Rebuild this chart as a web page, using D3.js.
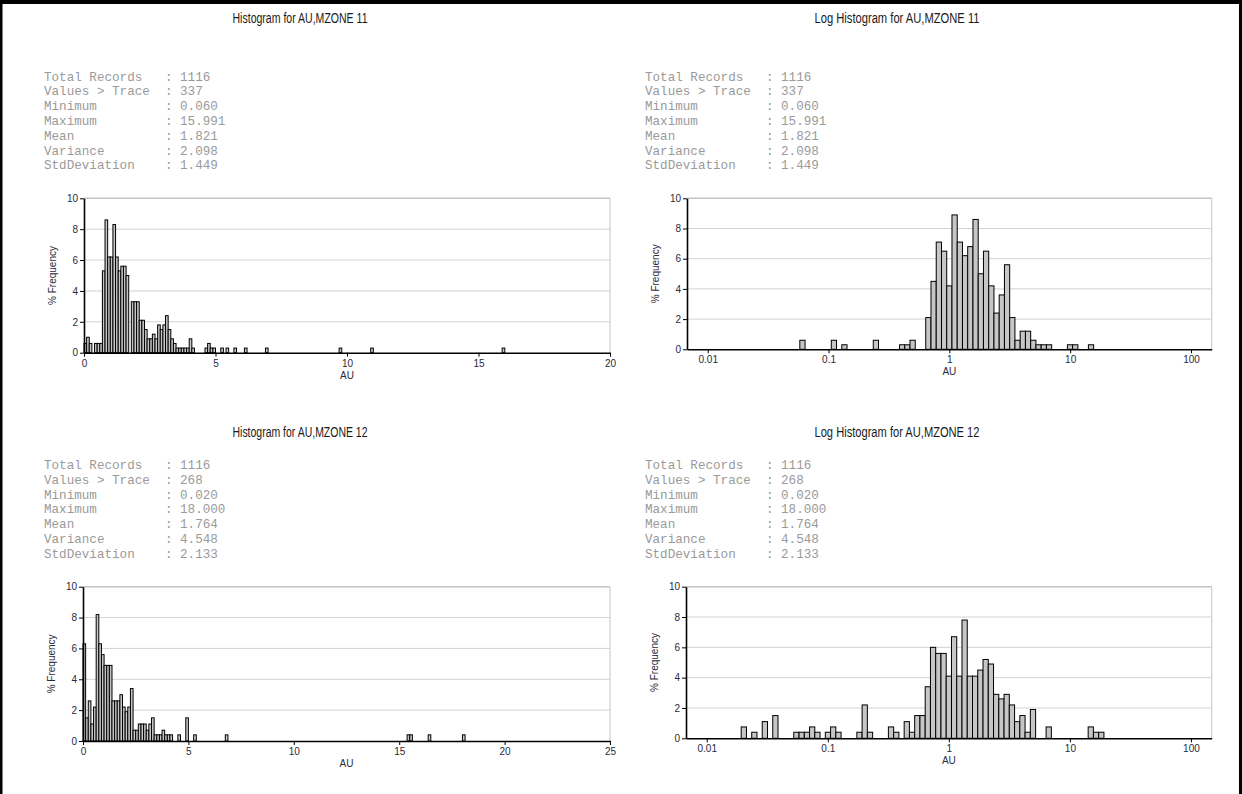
<!DOCTYPE html>
<html>
<head>
<meta charset="utf-8">
<script src="https://cdn.jsdelivr.net/npm/d3@7/dist/d3.min.js"></script>
<style>
  html, body { margin: 0; padding: 0; background: #fff; }
  svg { display: block; }
</style>
</head>
<body>
<svg id="fig" width="1242" height="794"></svg>
<script>
// ---------------- data ----------------
const yTicks = [0, 2, 4, 6, 8, 10];
const linTicksZ11 = [0, 5, 10, 15, 20];
const linTicksZ12 = [0, 5, 10, 15, 20, 25];
const logTicks = [0.01, 0.1, 1, 10, 100];

const statLabels = ["Total Records", "Values > Trace", "Minimum", "Maximum", "Mean", "Variance", "StdDeviation"];
const statsZ11 = ["1116", "337", "0.060", "15.991", "1.821", "2.098", "1.449"];
const statsZ12 = ["1116", "268", "0.020", "18.000", "1.764", "4.548", "2.133"];

// MZONE 11, linear histogram: bin lower edge (AU, bin width 0.1) and % frequency
const z11LinStart = [0.0, 0.1, 0.2, 0.4, 0.5, 0.6, 0.7, 0.8, 0.9, 1.0, 1.1, 1.2, 1.3, 1.4, 1.5, 1.6, 1.8, 1.9, 2.0, 2.1,
  2.2, 2.3, 2.4, 2.5, 2.6, 2.7, 2.8, 2.9, 3.0, 3.1, 3.2, 3.3, 3.4, 3.5, 3.6, 3.7, 3.8, 3.9, 4.0, 4.1,
  4.6, 4.7, 4.8, 4.9, 5.2, 5.4, 5.7, 6.1, 6.9, 9.7, 10.9, 15.9];
const z11LinPct = [0.6, 1.0, 0.6, 0.6, 0.6, 0.6, 5.3, 8.6, 6.2, 6.2, 8.3, 6.2, 5.3, 5.6, 5.6, 5.0, 3.3, 3.3, 3.3, 2.1,
  2.1, 1.5, 0.9, 0.9, 1.2, 0.9, 1.8, 1.5, 1.8, 2.4, 1.5, 0.9, 0.6, 0.3, 0.3, 0.3, 0.3, 0.3, 0.9, 0.3,
  0.3, 0.6, 0.3, 0.3, 0.3, 0.3, 0.3, 0.3, 0.3, 0.3, 0.3, 0.3];

// MZONE 11, log histogram: bin centre (natural log of AU, bin width 0.1) and % frequency
const z11LogLn = [-2.8, -2.2, -2.0, -1.4, -0.9, -0.8, -0.7, -0.4, -0.3, -0.2, -0.1, 0.0, 0.1, 0.2, 0.3, 0.4, 0.5, 0.6,
  0.7, 0.8, 0.9, 1.0, 1.1, 1.2, 1.3, 1.4, 1.5, 1.6, 1.7, 1.8, 1.9, 2.3, 2.4, 2.7];
const z11LogPct = [0.6, 0.6, 0.3, 0.6, 0.3, 0.3, 0.6, 2.1, 4.5, 7.1, 6.5, 4.2, 8.9, 7.1, 6.2, 6.8, 8.6, 5.0,
  6.5, 4.2, 2.4, 3.6, 5.6, 2.1, 0.6, 1.2, 1.2, 0.6, 0.3, 0.3, 0.3, 0.3, 0.3, 0.3];

// MZONE 12, linear histogram: bin lower edge (AU, bin width 0.125) and % frequency
const z12LinStart = [0.0, 0.125, 0.25, 0.375, 0.5, 0.625, 0.75, 0.875, 1.0, 1.125, 1.25, 1.375, 1.5, 1.625, 1.75,
  1.875, 2.0, 2.125, 2.25, 2.375, 2.5, 2.625, 2.75, 2.875, 3.0, 3.125, 3.25, 3.375, 3.5, 3.625, 3.75,
  3.875, 4.0, 4.125, 4.5, 4.875, 5.25, 6.75, 15.375, 15.5, 16.375, 18.0];
const z12LinPct = [6.3, 1.5, 2.6, 1.1, 2.2, 8.2, 6.3, 5.6, 4.9, 4.9, 4.9, 2.6, 2.6, 2.6, 3.0,
  2.2, 1.9, 2.2, 3.4, 0.7, 0.7, 1.1, 1.1, 1.1, 0.7, 1.1, 1.5, 0.4, 0.4, 0.4, 0.7,
  0.4, 0.4, 0.4, 0.4, 1.5, 0.4, 0.4, 0.4, 0.4, 0.4, 0.4];

// MZONE 12, log histogram: bin centre (natural log of AU, bin width 0.1) and % frequency
const z12LogLn = [-3.9, -3.7, -3.5, -3.3, -2.9, -2.8, -2.7, -2.6, -2.5, -2.3, -2.2, -2.1, -1.7, -1.6, -1.5, -1.1, -1.0,
  -0.8, -0.7, -0.6, -0.5, -0.4, -0.3, -0.2, -0.1, 0.0, 0.1, 0.2, 0.3, 0.4, 0.5, 0.6, 0.7, 0.8, 0.9, 1.0, 1.1,
  1.2, 1.3, 1.4, 1.5, 1.6, 1.9, 2.7, 2.8, 2.9];
const z12LogPct = [0.75, 0.4, 1.1, 1.5, 0.4, 0.4, 0.4, 0.75, 0.4, 0.4, 0.75, 0.4, 0.4, 2.2, 0.4, 0.75, 0.4,
  1.1, 0.4, 1.5, 1.5, 3.4, 6.0, 5.6, 5.6, 4.1, 6.7, 4.1, 7.8, 4.1, 4.1, 4.5, 5.2, 4.9, 2.9, 2.6, 2.9,
  2.2, 1.1, 1.5, 0.4, 1.9, 0.75, 0.75, 0.4, 0.4];

// ---------------- drawing ----------------
const svg = d3.select("#fig");
const SANS = "'Liberation Sans', Arial, sans-serif";
const MONO = "'Courier New', 'Nimbus Mono PS', FreeMono, 'Liberation Mono', monospace";

// page frame
svg.append("rect").attr("x", 0).attr("y", 0).attr("width", 1242).attr("height", 794).attr("fill", "#fff");
svg.append("rect").attr("x", 0).attr("y", 0).attr("width", 1242).attr("height", 4).attr("fill", "#000");
svg.append("rect").attr("x", 0).attr("y", 0).attr("width", 2.5).attr("height", 794).attr("fill", "#000");
svg.append("rect").attr("x", 1239).attr("y", 0).attr("width", 3).attr("height", 794).attr("fill", "#000");

function drawStats(x, y0, values) {
  const g = svg.append("g");
  statLabels.forEach((lab, i) => {
    g.append("text")
      .attr("x", x).attr("y", y0 + i * 14.8)
      .attr("font-family", MONO).attr("font-size", 12.6)
      .attr("fill", "#9a9a9a")
      .style("white-space", "pre")
      .text(lab.padEnd(16, " ") + ": " + values[i]);
  });
}

function drawPanel(cfg) {
  const g = svg.append("g");
  const x = cfg.log
    ? d3.scaleLog().domain(cfg.domain).range([cfg.left, cfg.right])
    : d3.scaleLinear().domain(cfg.domain).range([cfg.left, cfg.right]);
  const y = d3.scaleLinear().domain([0, 10]).range([cfg.bottom, cfg.top]);

  // title
  g.append("text")
    .attr("x", cfg.titleX).attr("y", cfg.titleY)
    .attr("text-anchor", "middle")
    .attr("font-family", SANS).attr("font-size", 14)
    .attr("fill", "#1a1a1a")
    .attr("textLength", cfg.titleLen).attr("lengthAdjust", "spacingAndGlyphs")
    .text(cfg.title);

  // horizontal grid
  g.selectAll("line.grid").data(yTicks.filter(d => d > 0)).join("line")
    .attr("x1", cfg.left).attr("x2", cfg.right)
    .attr("y1", d => y(d)).attr("y2", d => y(d))
    .attr("stroke", d => d === 10 ? "#c4c4c4" : "#d2d2d2")
    .attr("stroke-width", d => d === 10 ? 1.6 : 1);
  // right frame
  g.append("line")
    .attr("x1", cfg.right).attr("x2", cfg.right)
    .attr("y1", y(10)).attr("y2", y(0))
    .attr("stroke", "#cfcfcf").attr("stroke-width", 1.2);

  // bars
  const bars = cfg.starts.map((s, i) => {
    let lo, hi;
    if (cfg.log) { lo = Math.exp(s - 0.05); hi = Math.exp(s + 0.05); }
    else { lo = s; hi = s + cfg.binWidth; }
    return { lo, hi, v: cfg.pct[i] };
  });
  g.selectAll("rect.bar").data(bars).join("rect")
    .attr("x", d => x(d.lo))
    .attr("width", d => x(d.hi) - x(d.lo))
    .attr("y", d => y(d.v))
    .attr("height", d => y(0) - y(d.v))
    .attr("fill", "#c6c6c6")
    .attr("stroke", "#000")
    .attr("stroke-width", 1);

  // axes
  const yAxis = d3.axisLeft(y).tickValues(yTicks).tickSize(4).tickSizeOuter(0).tickPadding(2);
  const ya = g.append("g").attr("transform", `translate(${cfg.left},0)`).call(yAxis);
  const xAxis = d3.axisBottom(x).tickValues(cfg.ticks).tickSize(4).tickSizeOuter(0).tickPadding(3)
    .tickFormat(d3.format("~g"));
  const xa = g.append("g").attr("transform", `translate(0,${y(0)})`).call(xAxis);
  [ya, xa].forEach(a => {
    a.select(".domain").attr("stroke", "#000").attr("stroke-width", 1.6);
    a.selectAll(".tick line").attr("stroke", "#000").attr("stroke-width", 1);
    a.selectAll(".tick text").attr("font-family", SANS).attr("font-size", 10).attr("fill", "#2a2a3a");
  });

  // axis titles
  g.append("text")
    .attr("x", (cfg.left + cfg.right) / 2).attr("y", y(0) + 26)
    .attr("text-anchor", "middle")
    .attr("font-family", SANS).attr("font-size", 10).attr("fill", "#2a2a3a")
    .text("AU");
  g.append("text")
    .attr("transform", `translate(${cfg.left - 28},${(y(0) + y(10)) / 2}) rotate(-90)`)
    .attr("text-anchor", "middle")
    .attr("font-family", SANS).attr("font-size", 10).attr("fill", "#2a2a3a")
    .text("% Frequency");
}

// MZONE 11
drawStats(44, 80.5, statsZ11);
drawStats(645, 80.5, statsZ11);
drawPanel({
  title: "Histogram for AU,MZONE 11", titleX: 300, titleY: 22.5, titleLen: 135,
  log: false, domain: [0, 20], ticks: linTicksZ11, binWidth: 0.1,
  left: 84, right: 610, top: 198.3, bottom: 352.7,
  starts: z11LinStart, pct: z11LinPct
});
drawPanel({
  title: "Log Histogram for AU,MZONE 11", titleX: 897, titleY: 22.5, titleLen: 165,
  log: true, domain: [Math.exp(-5), Math.exp(5)], ticks: logTicks,
  left: 687, right: 1211.7, top: 198.3, bottom: 349.3,
  starts: z11LogLn, pct: z11LogPct
});

// MZONE 12
drawStats(44, 469, statsZ12);
drawStats(645, 469, statsZ12);
drawPanel({
  title: "Histogram for AU,MZONE 12", titleX: 300, titleY: 436.5, titleLen: 135,
  log: false, domain: [0, 25], ticks: linTicksZ12, binWidth: 0.125,
  left: 83, right: 610, top: 586.7, bottom: 741,
  starts: z12LinStart, pct: z12LinPct
});
drawPanel({
  title: "Log Histogram for AU,MZONE 12", titleX: 897, titleY: 436.5, titleLen: 165,
  log: true, domain: [Math.exp(-5), Math.exp(5)], ticks: logTicks,
  left: 686, right: 1211.7, top: 586.7, bottom: 738.3,
  starts: z12LogLn, pct: z12LogPct
});
</script>
</body>
</html>
